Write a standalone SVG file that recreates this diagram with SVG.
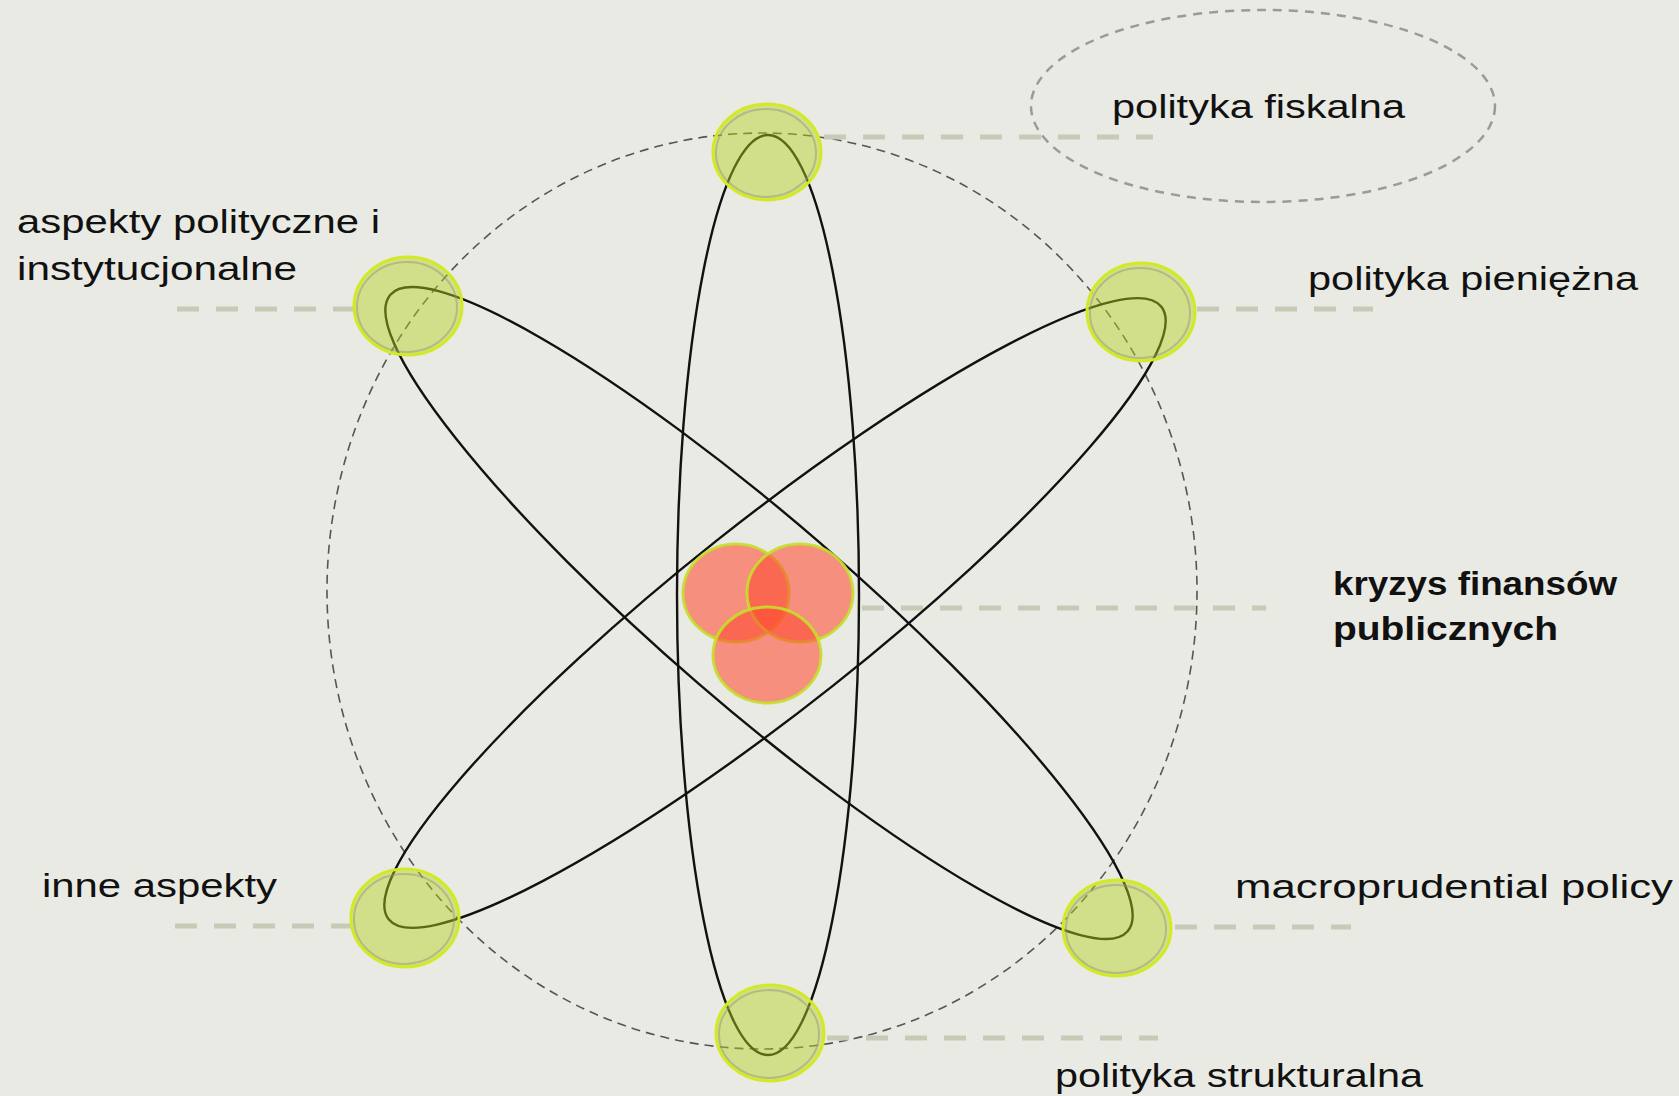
<svg xmlns="http://www.w3.org/2000/svg" width="1679" height="1096" viewBox="0 0 1679 1096">
<defs>
<style>
.lbl{font-family:"Liberation Sans","DejaVu Sans",sans-serif;font-size:34px;fill:#111}
.bold{font-family:"Liberation Sans","DejaVu Sans",sans-serif;font-size:33px;font-weight:bold;fill:#111}
.conn{stroke:#c8cab8;stroke-width:5;stroke-dasharray:22 17;fill:none}
.orbit{fill:none;stroke:#111;stroke-width:2.4}
.gn{fill:rgb(180,210,30);fill-opacity:0.45;stroke:#d2ea26;stroke-width:3}
.gin{fill:none;stroke:#8e8e78;stroke-opacity:0.45;stroke-width:2}
.rn{fill:#ff4a30;fill-opacity:0.57;stroke:#c6de2a;stroke-opacity:0.9;stroke-width:3}
.bg{fill:#eaeae4}
</style>
</defs>
<rect x="0" y="0" width="1679" height="1096" fill="#eaeae4"/>
<g id="guides">
<ellipse cx="762" cy="591" rx="435" ry="458" fill="none" stroke="#555" stroke-width="1.6" stroke-dasharray="9 6"/>
<ellipse cx="1263" cy="106" rx="232" ry="96" fill="none" stroke="#9a9a9a" stroke-width="2.5" stroke-dasharray="9 7"/>
</g>
<g id="connectors">
<line class="conn" x1="824" y1="137" x2="1153" y2="137"/>
<line class="conn" x1="177" y1="309" x2="353" y2="309"/>
<line class="conn" x1="1197" y1="309" x2="1373" y2="309"/>
<line class="conn" x1="862" y1="608" x2="1266" y2="608"/>
<line class="conn" x1="175" y1="926" x2="353" y2="926"/>
<line class="conn" x1="1175" y1="927" x2="1351" y2="927"/>
<line class="conn" x1="827" y1="1038" x2="1158" y2="1038"/>
</g>
<g id="orbits">
<ellipse class="orbit" cx="768" cy="595" rx="91" ry="460"/>
<ellipse class="orbit" cx="759" cy="613" rx="487" ry="93" transform="rotate(40.8 759 613)"/>
<ellipse class="orbit" cx="775" cy="613" rx="493" ry="93" transform="rotate(-38.4 775 613)"/>
</g>
<g id="node-top"><ellipse class="gn" cx="767" cy="152" rx="54" ry="48"/><ellipse class="gin" cx="766" cy="153" rx="50" ry="44"/></g>
<g id="node-ul"><ellipse class="gn" cx="408" cy="306" rx="54" ry="49"/><ellipse class="gin" cx="407" cy="307" rx="50" ry="45"/></g>
<g id="node-ur"><ellipse class="gn" cx="1141" cy="312" rx="54" ry="49"/><ellipse class="gin" cx="1140" cy="313" rx="50" ry="45"/></g>
<g id="node-ll"><ellipse class="gn" cx="405" cy="918" rx="54" ry="49"/><ellipse class="gin" cx="404" cy="919" rx="50" ry="45"/></g>
<g id="node-lr"><ellipse class="gn" cx="1117" cy="928" rx="54" ry="48"/><ellipse class="gin" cx="1116" cy="929" rx="50" ry="44"/></g>
<g id="node-bottom"><ellipse class="gn" cx="770" cy="1033" rx="54" ry="48"/><ellipse class="gin" cx="769" cy="1034" rx="50" ry="44"/></g>
<g id="node-center">
<ellipse class="bg" cx="736" cy="593" rx="53" ry="49"/>
<ellipse class="bg" cx="800" cy="593" rx="53" ry="49"/>
<ellipse class="bg" cx="767" cy="655" rx="54" ry="48"/>
<ellipse class="rn" cx="736" cy="593" rx="53" ry="49"/>
<ellipse class="rn" cx="800" cy="593" rx="53" ry="49"/>
<ellipse class="rn" cx="767" cy="655" rx="54" ry="48"/>
</g>
<g id="labels">
<text class="lbl" x="1112" y="118" textLength="293" lengthAdjust="spacingAndGlyphs">polityka fiskalna</text>
<text class="lbl" x="17" y="233" textLength="363" lengthAdjust="spacingAndGlyphs">aspekty polityczne i</text>
<text class="lbl" x="17" y="280" textLength="280" lengthAdjust="spacingAndGlyphs">instytucjonalne</text>
<text class="lbl" x="1308" y="290" textLength="330" lengthAdjust="spacingAndGlyphs">polityka pieniężna</text>
<text class="bold" x="1333" y="595" textLength="284" lengthAdjust="spacingAndGlyphs">kryzys finansów</text>
<text class="bold" x="1333" y="640" textLength="225" lengthAdjust="spacingAndGlyphs">publicznych</text>
<text class="lbl" x="42" y="897" textLength="235" lengthAdjust="spacingAndGlyphs">inne aspekty</text>
<text class="lbl" x="1235" y="898" textLength="438" lengthAdjust="spacingAndGlyphs">macroprudential policy</text>
<text class="lbl" x="1055" y="1087" textLength="368" lengthAdjust="spacingAndGlyphs">polityka strukturalna</text>
</g>
</svg>
